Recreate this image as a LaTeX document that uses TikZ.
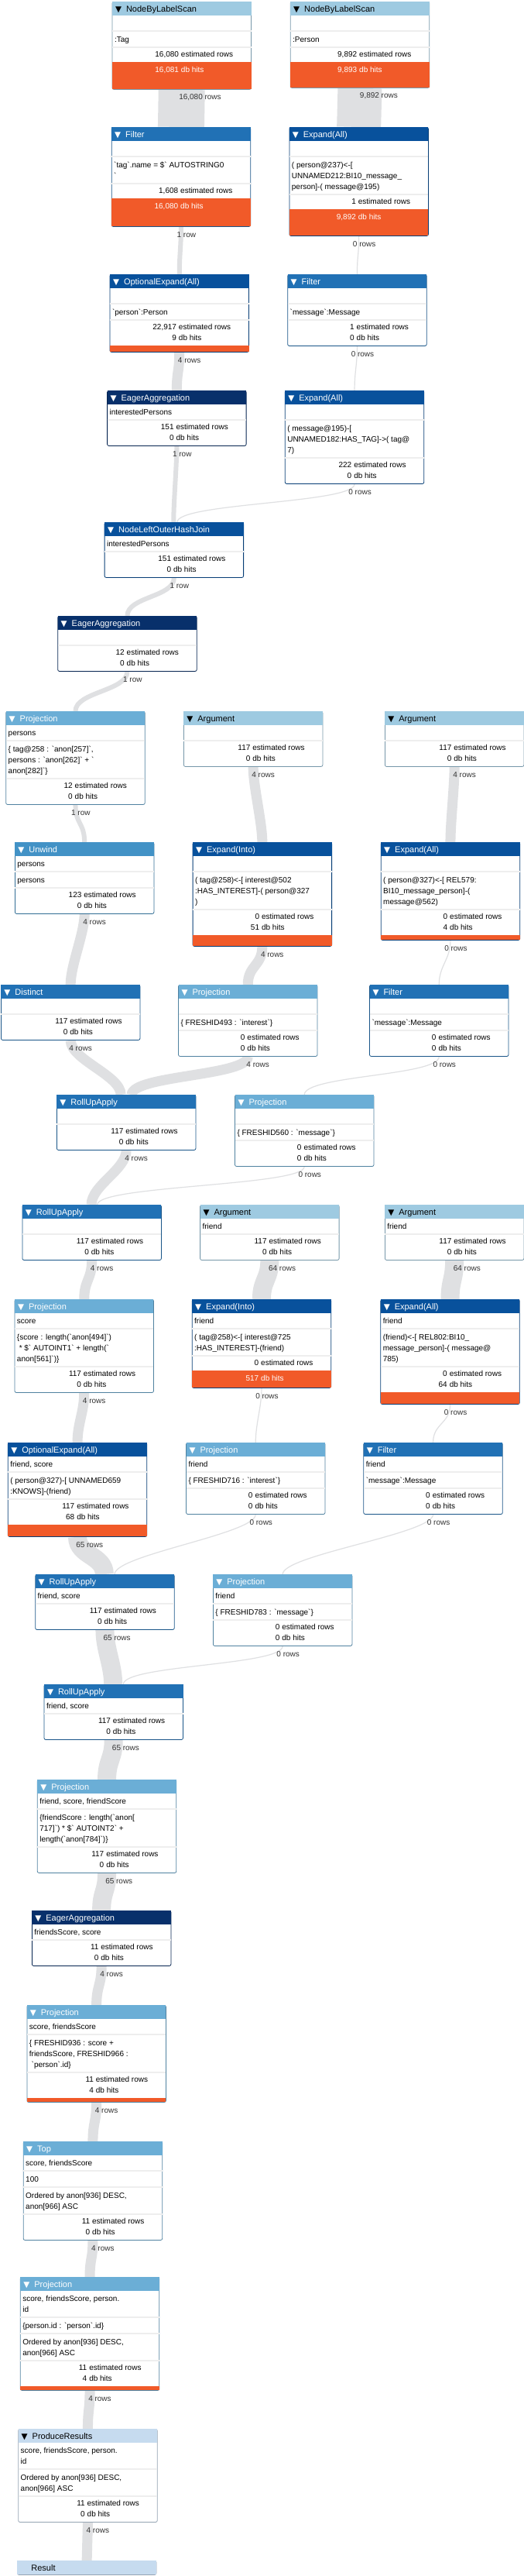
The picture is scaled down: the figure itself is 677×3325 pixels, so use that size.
\documentclass[tikz,border=0pt]{standalone}
\usepackage{fontspec}
\setmainfont{Liberation Sans}[Ligatures=TeXOff]
\newfontfamily\trifont{DejaVu Sans}
\usepackage{xcolor}
\usetikzlibrary{backgrounds}

\newlength\pxl \setlength\pxl{0.25mm}
\newlength\opw \setlength\opw{179.5\pxl}

\definecolor{hdrA}{HTML}{9ECAE1}
\definecolor{hdrB}{HTML}{6BAED6}
\definecolor{hdrC}{HTML}{4292C6}
\definecolor{hdrD}{HTML}{2171B5}
\definecolor{hdrE}{HTML}{08519C}
\definecolor{hdrF}{HTML}{08306B}
\definecolor{hdrG}{HTML}{C6DBEF}
\definecolor{hits}{HTML}{F15A29}
\definecolor{sepgray}{HTML}{EEEEEE}
\definecolor{bandgray}{HTML}{DFE0E2}
\definecolor{txtgray}{HTML}{333333}

\newcommand\bodyfont{\fontsize{7.11pt}{9.96pt}\selectfont}
\newcommand\hdrfont{\fontsize{7.82pt}{9.96pt}\selectfont}
\newcommand\bt{\textasciigrave}
% --- pieces of one operator box ---
\newcommand\optri{{\color{\htxt}\trifont\fontsize{7.4pt}{9pt}\selectfont ▼}}
\newcommand\ophd[2][\optri]{\hbox{\fboxsep0pt\colorbox{\hcol}{\hbox to\opw{\rule[-5.1\pxl]{0pt}{18\pxl}\hbox to18\pxl{\hskip4\pxl#1\hfil}{\color{\htxt}\hdrfont#2}\hfil}}}}
\newcommand\opl[1]{\hbox to\opw{\hskip3\pxl\rule[-4\pxl]{0pt}{14\pxl}#1\hfil}}
\newcommand\opsep{\hbox{\color{sepgray}\rule{\opw}{2\pxl}}}
\newcommand\opsec[1]{\kern3.5\pxl#1\kern1.5\pxl\opsep}
\newcommand\opst[2]{\hbox to\opw{\rule[-4\pxl]{0pt}{14\pxl}\hbox to86\pxl{\hfil#1}\hskip3\pxl#2\hfil}}
\newcommand\opstats[2]{\kern1.5\pxl\opst{#1}{estimated rows}\opst{#2}{db hits}\kern2.5\pxl}
\newcommand\opbar[1]{\hbox{\color{hits}\rule{\opw}{#1\pxl}}}
\newcommand\opheavy[3]{\kern1.5\pxl\opst{#1}{estimated rows}\kern2.5\pxl
  \hbox{\fboxsep0pt\colorbox{hits}{\vbox to#3\pxl{\kern3.5\pxl\hbox{\color{white}\opst{#2}{db hits}}\vfil}}}}

\begin{document}
\begin{tikzpicture}[x=0.25mm, y=-0.25mm,
    opbox/.style 2 args={draw=#1!75!black, fill=white, rounded corners=2\pxl, line width=0.8\pxl,
      inner sep=0pt, anchor=north west,
      execute at begin node={\def\hcol{#1}\def\htxt{#2}\vbox\bgroup\offinterlineskip\bodyfont},
      execute at end node=\egroup},
    rowlbl/.style={pos=0, anchor=west, inner sep=0pt, xshift=#1\pxl, yshift=-10\pxl,
      font=\bodyfont, text=txtgray},
    rowlbl/.default=-8.3,
    band/.style={draw=bandgray, line width=#1\pxl,
      to path={.. controls +(0,25) and +(0,-25) .. (\tikztotarget) \tikztonodes}}]

    \useasboundingbox (0,0) rectangle (677,3325);

    % --- Scans and the tag / message branches ---
    \node[opbox={hdrA}{black}] (scanTag) at (144.6,2) {\ophd{NodeByLabelScan}\opsec{\opl{}}\opsec{\opl{:Tag}}\opheavy{16,080}{16,081}{35}};
    \node[opbox={hdrA}{black}] (scanPerson) at (374.8,2) {\ophd{NodeByLabelScan}\opsec{\opl{}}\opsec{\opl{:Person}}\opheavy{9,892}{9,893}{33}};
    \node[opbox={hdrD}{white}] (filterTag) at (143.8,164) {\ophd{Filter}\opsec{\opl{}}\opsec{\opl{\bt tag\bt .name = \$\bt{} AUTOSTRING0}\opl{\bt}}\opheavy{1,608}{16,080}{36}};
    \node[opbox={hdrE}{white}] (expandMsg) at (373.5,164) {\ophd{Expand(All)}\opsec{\opl{}}\opsec{\opl{( person@237)<-[}\opl{UNNAMED212:BI10\_message\_}\opl{person]-( message@195)}}\opheavy{1}{9,892}{34}};
    \node[opbox={hdrE}{white}] (optExpand1) at (141.6,354) {\ophd{OptionalExpand(All)}\opsec{\opl{}}\opsec{\opl{\bt person\bt :Person}}\opstats{22,917}{9}\opbar{8}};
    \node[opbox={hdrD}{white}] (filterMsg) at (371.3,354) {\ophd{Filter}\opsec{\opl{}}\opsec{\opl{\bt message\bt :Message}}\opstats{1}{0}};
    \node[opbox={hdrF}{white}] (eagerAgg1) at (138.2,504) {\ophd{EagerAggregation}\opsec{\opl{interestedPersons}}\opstats{151}{0}};
    \node[opbox={hdrE}{white}] (expandTag) at (367.9,504) {\ophd{Expand(All)}\opsec{\opl{}}\opsec{\opl{( message@195)-[}\opl{UNNAMED182:HAS\_TAG]->( tag@}\opl{7)}}\opstats{222}{0}};
    \node[opbox={hdrE}{white}] (hashJoin) at (134.7,674) {\ophd{NodeLeftOuterHashJoin}\opsec{\opl{interestedPersons}}\opstats{151}{0}};
    \node[opbox={hdrF}{white}] (eagerAgg2) at (74.3,795) {\ophd{EagerAggregation}\opsec{\opl{}}\opstats{12}{0}};

    % --- Persons unwound, first pair of sub-queries ---
    \node[opbox={hdrB}{white}] (proj1) at (7.3,918) {\ophd{Projection}\opsec{\opl{persons}}\opsec{\opl{\{ tag@258 : \bt anon[257]\bt ,}\opl{persons : \bt anon[262]\bt{} + \bt}\opl{anon[282]\bt\}}}\opstats{12}{0}};
    \node[opbox={hdrA}{black}] (arg1) at (237,918) {\ophd{Argument}\opsec{\opl{}}\opstats{117}{0}};
    \node[opbox={hdrA}{black}] (arg2) at (497,918) {\ophd{Argument}\opsec{\opl{}}\opstats{117}{0}};
    \node[opbox={hdrC}{white}] (unwind) at (19,1087) {\ophd{Unwind}\opsec{\opl{persons}}\opsec{\opl{persons}}\opstats{123}{0}};
    \node[opbox={hdrE}{white}] (expandInto1) at (248.7,1087) {\ophd{Expand(Into)}\opsec{\opl{}}\opsec{\opl{( tag@258)<-[ interest@502}\opl{:HAS\_INTEREST]-( person@327}\opl{)}}\opstats{0}{51}\opbar{14}};
    \node[opbox={hdrE}{white}] (expandRel1) at (491.8,1087) {\ophd{Expand(All)}\opsec{\opl{}}\opsec{\opl{( person@327)<-[ REL579:}\opl{BI10\_message\_person]-(}\opl{message@562)}}\opstats{0}{4}\opbar{6}};
    \node[opbox={hdrD}{white}] (distinct) at (1,1271) {\ophd{Distinct}\opsec{\opl{}}\opstats{117}{0}};
    \node[opbox={hdrB}{white}] (proj2) at (230.1,1271) {\ophd{Projection}\opsec{\opl{}}\opsec{\opl{\{ FRESHID493 : \bt interest\bt\}}}\opstats{0}{0}};
    \node[opbox={hdrD}{white}] (filterMsg2) at (477.1,1271) {\ophd{Filter}\opsec{\opl{}}\opsec{\opl{\bt message\bt :Message}}\opstats{0}{0}};
    \node[opbox={hdrD}{white}] (rollUp1) at (73,1413) {\ophd{RollUpApply}\opsec{\opl{}}\opstats{117}{0}};
    \node[opbox={hdrB}{white}] (proj3) at (303.1,1413) {\ophd{Projection}\opsec{\opl{}}\opsec{\opl{\{ FRESHID560 : \bt message\bt\}}}\opstats{0}{0}};
    \node[opbox={hdrD}{white}] (rollUp2) at (28.5,1555) {\ophd{RollUpApply}\opsec{\opl{}}\opstats{117}{0}};

    % --- Friends, second pair of sub-queries ---
    \node[opbox={hdrA}{black}] (arg3) at (258.2,1555) {\ophd{Argument}\opsec{\opl{friend}}\opstats{117}{0}};
    \node[opbox={hdrA}{black}] (arg4) at (497,1555) {\ophd{Argument}\opsec{\opl{friend}}\opstats{117}{0}};
    \node[opbox={hdrB}{white}] (proj4) at (18.6,1677) {\ophd{Projection}\opsec{\opl{score}}\opsec{\opl{\{score : length(\bt anon[494]\bt )}\opl{\ * \$\bt{} AUTOINT1\bt{} + length(\bt}\opl{anon[561]\bt )\}}}\opstats{117}{0}};
    \node[opbox={hdrE}{white}] (expandInto2) at (247.8,1677) {\ophd{Expand(Into)}\opsec{\opl{friend}}\opsec{\opl{( tag@258)<-[ interest@725}\opl{:HAS\_INTEREST]-(friend)}}\opheavy{0}{517}{22}};
    \node[opbox={hdrE}{white}] (expandRel2) at (491.4,1677) {\ophd{Expand(All)}\opsec{\opl{friend}}\opsec{\opl{(friend)<-[ REL802:BI10\_}\opl{message\_person]-( message@}\opl{785)}}\opstats{0}{64}\opbar{15}};
    \node[opbox={hdrE}{white}] (optExpand2) at (9.9,1862) {\ophd{OptionalExpand(All)}\opsec{\opl{friend, score}}\opsec{\opl{( person@327)-[ UNNAMED659}\opl{:KNOWS]-(friend)}}\opstats{117}{68}\opbar{15}};
    \node[opbox={hdrB}{white}] (proj5) at (240.1,1862) {\ophd{Projection}\opsec{\opl{friend}}\opsec{\opl{\{ FRESHID716 : \bt interest\bt\}}}\opstats{0}{0}};
    \node[opbox={hdrD}{white}] (filter3) at (469.4,1862) {\ophd{Filter}\opsec{\opl{friend}}\opsec{\opl{\bt message\bt :Message}}\opstats{0}{0}};
    \node[opbox={hdrD}{white}] (rollUp3) at (45.3,2032) {\ophd{RollUpApply}\opsec{\opl{friend, score}}\opstats{117}{0}};
    \node[opbox={hdrB}{white}] (proj6) at (275,2032) {\ophd{Projection}\opsec{\opl{friend}}\opsec{\opl{\{ FRESHID783 : \bt message\bt\}}}\opstats{0}{0}};
    \node[opbox={hdrD}{white}] (rollUp4) at (56.6,2174) {\ophd{RollUpApply}\opsec{\opl{friend, score}}\opstats{117}{0}};

    % --- Scoring, ordering and results ---
    \node[opbox={hdrB}{white}] (proj7) at (47.9,2297) {\ophd{Projection}\opsec{\opl{friend, score, friendScore}}\opsec{\opl{\{friendScore : length(\bt anon[}\opl{717]\bt ) * \$\bt{} AUTOINT2\bt{} +}\opl{length(\bt anon[784]\bt )\}}}\opstats{117}{0}};
    \node[opbox={hdrF}{white}] (eagerAgg3) at (41,2466) {\ophd{EagerAggregation}\opsec{\opl{friendsScore, score}}\opstats{11}{0}};
    \node[opbox={hdrB}{white}] (proj8) at (34.5,2588) {\ophd{Projection}\opsec{\opl{score, friendsScore}}\opsec{\opl{\{ FRESHID936 : score +}\opl{friendsScore, FRESHID966 :}\opl{\ \bt person\bt .id\}}}\opstats{11}{4}\opbar{5}};
    \node[opbox={hdrB}{white}] (topOp) at (29.8,2764) {\ophd{Top}\opsec{\opl{score, friendsScore}}\opsec{\opl{100}}\opsec{\opl{Ordered by anon[936] DESC,}\opl{anon[966] ASC}}\opstats{11}{0}};
    \node[opbox={hdrB}{white}] (proj9) at (25.9,2939) {\ophd{Projection}\opsec{\opl{score, friendsScore, person.}\opl{id}}\opsec{\opl{\{person.id : \bt person\bt .id\}}}\opsec{\opl{Ordered by anon[936] DESC,}\opl{anon[966] ASC}}\opstats{11}{4}\opbar{5}};
    \node[opbox={hdrG}{black}] (produce) at (23.3,3135) {\ophd{ProduceResults}\opsec{\opl{score, friendsScore, person.}\opl{id}}\opsec{\opl{Ordered by anon[936] DESC,}\opl{anon[966] ASC}}\opstats{11}{0}};
    \node[opbox={hdrG}{black}] (result) at (22,3305) {\ophd[]{Result}};

    \begin{pgfonlayer}{background}
    \fill[white] (0,0) rectangle (677,3325);

    % --- Row flows between operators ---
    \draw[band=60] (scanTag.south) to node[rowlbl=-33.5] {16,080 rows} (filterTag.north);
    \draw[band=57] (scanPerson.south) to node[rowlbl=-28.5] {9,892 rows} (expandMsg.north);
    \draw[band=6] (filterTag.south) to node[rowlbl] {1 row} (optExpand1.north);
    \draw[band=1.2] (expandMsg.south) to node[rowlbl] {0 rows} (filterMsg.north);
    \draw[band=13] (optExpand1.south) to node[rowlbl] {4 rows} (eagerAgg1.north);
    \draw[band=1.2] (filterMsg.south) to node[rowlbl] {0 rows} (expandTag.north);
    \draw[band=6] (eagerAgg1.south) to node[rowlbl] {1 row} ([xshift=-0.6\pxl]hashJoin.north);
    \draw[band=1.2] (expandTag.south) to node[rowlbl] {0 rows} ([xshift=4\pxl]hashJoin.north);
    \draw[band=6] (hashJoin.south) to node[rowlbl] {1 row} (eagerAgg2.north);
    \draw[band=6] (eagerAgg2.south) to node[rowlbl] {1 row} (proj1.north);
    \draw[band=6] (proj1.south) to node[rowlbl] {1 row} (unwind.north);
    \draw[band=13] (arg1.south) to node[rowlbl] {4 rows} (expandInto1.north);
    \draw[band=13] (arg2.south) to node[rowlbl] {4 rows} (expandRel1.north);
    \draw[band=13] (unwind.south) to node[rowlbl] {4 rows} (distinct.north);
    \draw[band=13] (expandInto1.south) to node[rowlbl] {4 rows} (proj2.north);
    \draw[band=1.2] (expandRel1.south) to node[rowlbl] {0 rows} (filterMsg2.north);
    \draw[band=13] (distinct.south) to node[rowlbl] {4 rows} ([xshift=-7\pxl]rollUp1.north);
    \draw[band=13] (proj2.south) to node[rowlbl] {4 rows} ([xshift=7\pxl]rollUp1.north);
    \draw[band=1.2] (filterMsg2.south) to node[rowlbl] {0 rows} (proj3.north);
    \draw[band=13] (rollUp1.south) to node[rowlbl] {4 rows} ([xshift=-0.6\pxl]rollUp2.north);
    \draw[band=1.2] (proj3.south) to node[rowlbl] {0 rows} ([xshift=7\pxl]rollUp2.north);
    \draw[band=13] (rollUp2.south) to node[rowlbl] {4 rows} (proj4.north);
    \draw[band=24] (arg3.south) to node[rowlbl=-13.3] {64 rows} (expandInto2.north);
    \draw[band=24] (arg4.south) to node[rowlbl=-13.3] {64 rows} (expandRel2.north);
    \draw[band=13] (proj4.south) to node[rowlbl] {4 rows} (optExpand2.north);
    \draw[band=1.2] (expandInto2.south) to node[rowlbl] {0 rows} (proj5.north);
    \draw[band=1.2] (expandRel2.south) to node[rowlbl] {0 rows} (filter3.north);
    \draw[band=24] (optExpand2.south) to node[rowlbl=-13.8] {65 rows} ([xshift=-0.6\pxl]rollUp3.north);
    \draw[band=1.2] (proj5.south) to node[rowlbl] {0 rows} ([xshift=12.6\pxl]rollUp3.north);
    \draw[band=1.2] (filter3.south) to node[rowlbl] {0 rows} (proj6.north);
    \draw[band=24] (rollUp3.south) to node[rowlbl=-13.8] {65 rows} ([xshift=-0.6\pxl]rollUp4.north);
    \draw[band=1.2] (proj6.south) to node[rowlbl] {0 rows} ([xshift=12.6\pxl]rollUp4.north);
    \draw[band=24] (rollUp4.south) to node[rowlbl=-13.8] {65 rows} (proj7.north);
    \draw[band=24] (proj7.south) to node[rowlbl=-13.8] {65 rows} (eagerAgg3.north);
    \draw[band=13] (eagerAgg3.south) to node[rowlbl] {4 rows} (proj8.north);
    \draw[band=13] (proj8.south) to node[rowlbl] {4 rows} (topOp.north);
    \draw[band=13] (topOp.south) to node[rowlbl] {4 rows} (proj9.north);
    \draw[band=13] (proj9.south) to node[rowlbl] {4 rows} (produce.north);
    \draw[band=13] (produce.south) to node[rowlbl] {4 rows} (result.north);
    \end{pgfonlayer}

\end{tikzpicture}
\end{document}
